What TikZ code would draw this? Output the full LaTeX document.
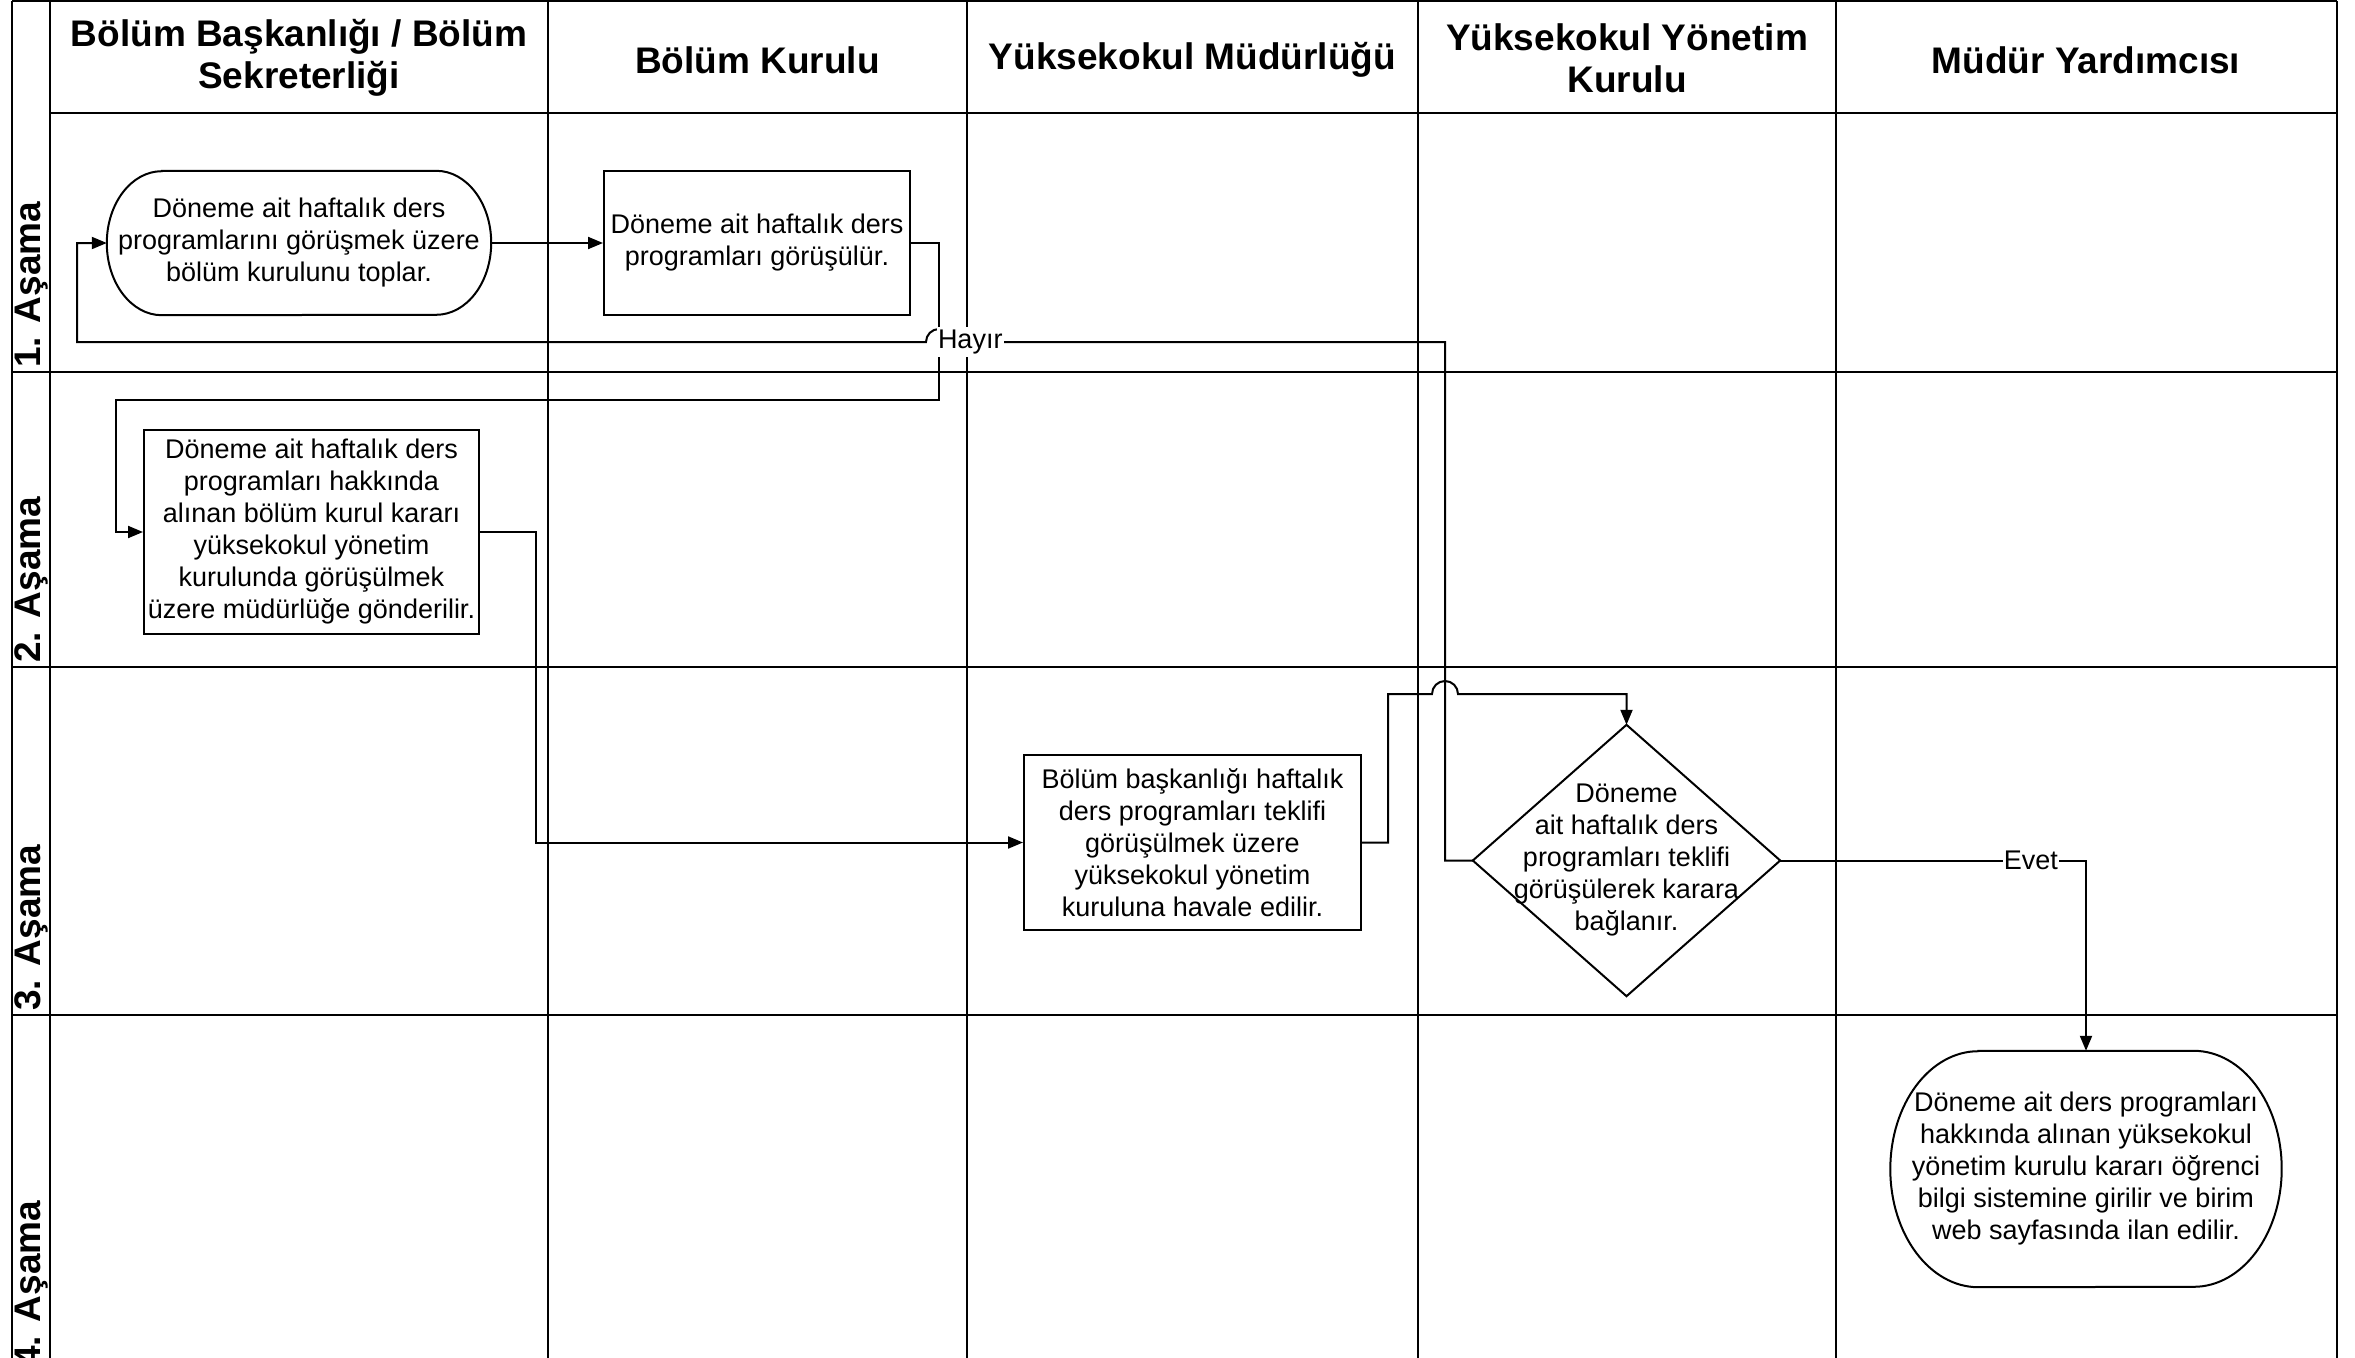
\documentclass[tikz,border=0pt]{standalone}
\usepackage{fontspec}
\setmainfont{Liberation Sans}
\usetikzlibrary{arrows.meta,calc}
\begin{document}
\begin{tikzpicture}[x=1pt,y=-1pt,
  gridline/.style={line width=2.6pt},
  txt/.style={font=\fontsize{27}{32}\selectfont, align=center},
  procbox/.style={txt, draw, line width=2pt, inner sep=0pt},
  termtext/.style={txt, inner sep=0pt},
  shapeline/.style={line width=2pt},
  hdr/.style={font=\bfseries\fontsize{37}{42}\selectfont, align=center},
  rowlbl/.style={font=\bfseries\fontsize{37}{42}\selectfont, rotate=90, anchor=base west, inner sep=0pt},
  flow/.style={line width=2pt, -{Triangle[length=15pt,width=12pt]}},
  lbl/.style={txt, fill=white, inner xsep=1pt, inner ysep=3pt}]
\useasboundingbox (0,0) rectangle (2355,1357);
\clip (0,0) rectangle (2355,1357);
% grid
\draw[gridline] (12,1) -- (2337,1);
\foreach \xx in {12,50,548,967,1418,1836,2337} {\draw[gridline] (\xx,1) -- (\xx,1400);}
\draw[gridline] (50,113) -- (2337,113);
\foreach \yy in {372,667,1015} {\draw[gridline] (12,\yy) -- (2337,\yy);}
% headers
\node[hdr] (h1) at (299,58) {Bölüm Başkanlığı / Bölüm\\Sekreterliği};
\node[hdr] (h2) at (757.5,60) {Bölüm Kurulu};
\node[hdr] (h3) at (1192.5,60) {Yüksekokul Müdürlüğü};
\node[hdr] (h4) at (1627,58) {Yüksekokul Yönetim\\Kurulu};
\node[hdr] (h5) at (2086,60) {Müdür Yardımcısı};
% row labels
\node[rowlbl] (r1) at (40,368) {1. Aşama};
\node[rowlbl] (r2) at (40,663) {2. Aşama};
\node[rowlbl] (r3) at (40,1011) {3. Aşama};
\node[rowlbl] (r4) at (40,1367) {4. Aşama};
% nodes
\node[termtext, minimum width=384, minimum height=144] (A) at (299,243)
  {Döneme ait haftalık ders\\programlarını görüşmek üzere\\bölüm kurulunu toplar.};
\draw[shapeline] ($(A.north west)+(55,0)$) -- ($(A.north east)+(-55,0)$)
  arc[start angle=90,end angle=-90,x radius=55pt,y radius=72pt]
  -- ($(A.south west)+(55,0)$)
  arc[start angle=270,end angle=90,x radius=55pt,y radius=72pt] -- cycle;
\node[procbox, minimum width=306, minimum height=144] (B) at (757,243)
  {Döneme ait haftalık ders\\programları görüşülür.};
\node[procbox, minimum width=335, minimum height=204] (C) at (311.5,532)
  {Döneme ait haftalık ders\\programları hakkında\\alınan bölüm kurul kararı\\yüksekokul yönetim\\kurulunda görüşülmek\\üzere müdürlüğe gönderilir.};
\node[procbox, minimum width=337, minimum height=175] (D) at (1192.5,842.5)
  {Bölüm başkanlığı haftalık\\ders programları teklifi\\görüşülmek üzere\\yüksekokul yönetim\\kuruluna havale edilir.};
\node[termtext, minimum width=307, minimum height=271] (F) at (1626.5,860.5)
  {Döneme\\ait haftalık ders\\programları teklifi\\görüşülerek karara\\bağlanır.};
\draw[shapeline] (F.north) -- (F.east) -- (F.south) -- (F.west) -- cycle;
\node[termtext, minimum width=391, minimum height=236] (E) at (2086,1169)
  {Döneme ait ders programları\\hakkında alınan yüksekokul\\yönetim kurulu kararı öğrenci\\bilgi sistemine girilir ve birim\\web sayfasında ilan edilir.};
\draw[shapeline] ($(E.north west)+(88,0)$) -- ($(E.north east)+(-88,0)$)
  arc[start angle=90,end angle=-90,x radius=88pt,y radius=118pt]
  -- ($(E.south west)+(88,0)$)
  arc[start angle=270,end angle=90,x radius=88pt,y radius=118pt] -- cycle;
% connectors
\draw[flow] (A.east) -- (B.west);
\draw[flow] (B.east) -- (939,243) -- (939,400) -- (116,400) -- (116,532) -- (C.west);
\draw[flow] (C.east) -- (536,532) |- (D.west);
\draw[flow] (D.east) -- (1388,842.5) -- (1388,694) -- (1432,694)
  arc[start angle=180,end angle=0,radius=13pt] -- (F.north |- 0,694) -- (F.north);
\draw[flow] (F.west) -- (1445,860.5) -- (1445,342) -- node[lbl, pos=0.963] {Hayır} (952,342)
  arc[start angle=0,end angle=180,radius=13pt] -- (77,342) -- (77,243) -- (A.west);
\draw[flow] (F.east) -- node[lbl, pos=0.82] {Evet} (E.north |- F.east) -- (E.north);
\end{tikzpicture}
\end{document}
